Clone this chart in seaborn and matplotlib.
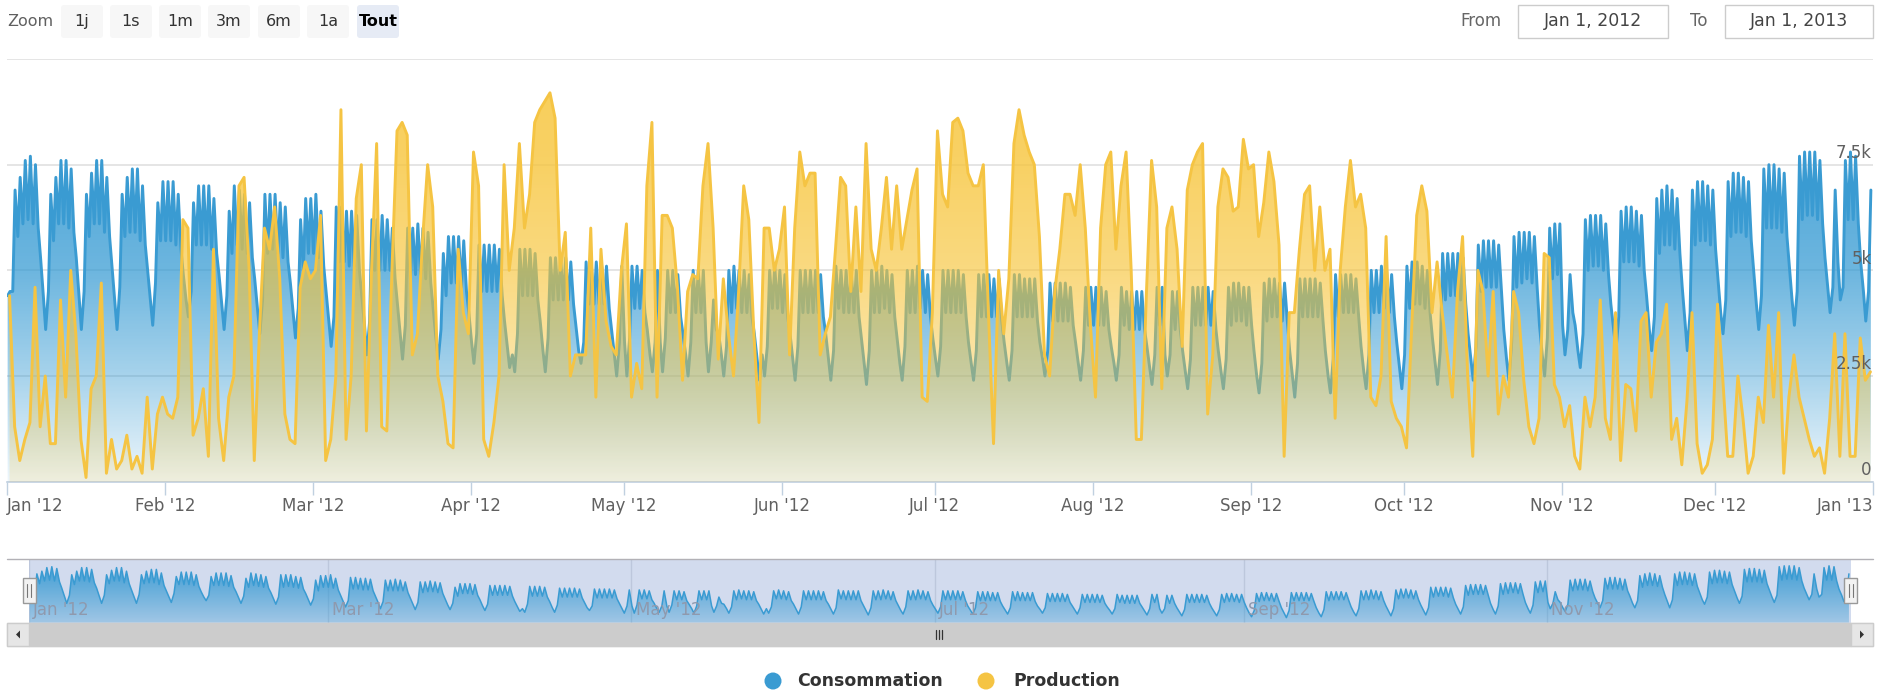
import numpy as np
import pandas as pd
import seaborn as sns
import matplotlib.pyplot as plt
import matplotlib.dates as mdates
from matplotlib.patches import Polygon, Rectangle, Circle, FancyBboxPatch
from matplotlib.transforms import blended_transform_factory

# Daily readings for 2012, in thousands.
# First value = Sun 1 Jan, then one row per week (Mon..Sun), last value = Mon 31 Dec.

# consumption, night-time low of each day
cons_night = [4.4,
    4.5, 5.8, 6.1, 6.2, 6.1, 6.0, 4.4,
    4.5, 5.7, 6.1, 6.1, 6.0, 5.9, 4.4,
    4.5, 5.8, 6.1, 6.1, 5.9, 5.8, 4.3,
    4.6, 5.8, 5.9, 5.9, 5.7, 5.6, 4.3,
    4.7, 5.7, 5.7, 5.7, 5.6, 5.5, 4.3,
    4.5, 5.6, 5.6, 5.6, 5.5, 5.4, 4.2,
    4.4, 5.4, 5.6, 5.5, 5.4, 5.3, 4.1,
    4.3, 5.4, 5.5, 5.4, 5.3, 5.2, 4.0,
    4.1, 5.0, 5.4, 5.4, 5.3, 5.1, 3.8,
    3.9, 5.2, 5.2, 5.1, 5.1, 5.0, 3.7,
    3.8, 5.0, 5.0, 5.0, 5.0, 4.8, 3.5,
    3.7, 4.8, 4.9, 4.9, 4.8, 4.7, 3.4,
    3.6, 4.4, 4.7, 4.7, 4.6, 4.5, 3.3,
    3.5, 4.5, 4.5, 4.5, 4.5, 4.4, 3.2,
    3.0, 3.5, 4.4, 4.4, 4.4, 4.3, 3.1,
    3.4, 4.3, 4.3, 4.3, 4.3, 4.2, 3.1,
    3.3, 4.2, 4.2, 4.2, 4.2, 4.1, 3.0,
    3.3, 3.3, 3.4, 4.1, 4.1, 4.0, 3.0,
    3.3, 3.3, 3.4, 4.0, 4.0, 3.9, 3.0,
    3.3, 4.0, 4.0, 3.3, 3.3, 3.6, 3.0,
    3.2, 4.0, 4.1, 4.0, 4.0, 3.9, 2.9,
    3.0, 3.2, 4.1, 4.1, 4.0, 3.9, 2.9,
    3.2, 4.0, 4.0, 4.0, 4.0, 3.9, 2.9,
    3.1, 4.1, 4.0, 4.0, 4.0, 3.9, 2.8,
    3.1, 4.0, 4.0, 4.1, 4.0, 3.9, 2.8,
    3.2, 4.0, 4.0, 4.1, 4.0, 3.9, 2.9,
    3.2, 4.0, 4.0, 4.0, 4.0, 3.9, 2.8,
    3.1, 3.9, 3.9, 3.9, 3.9, 3.8, 2.8,
    3.1, 3.9, 3.9, 3.9, 3.9, 3.8, 2.9,
    3.1, 3.8, 3.8, 3.8, 3.8, 3.7, 2.8,
    3.1, 3.7, 3.7, 3.7, 3.7, 3.6, 2.8,
    3.0, 3.7, 3.6, 3.6, 3.6, 3.6, 2.7,
    3.0, 3.7, 3.0, 3.0, 3.6, 3.6, 2.6,
    2.9, 3.7, 3.7, 3.7, 3.7, 3.6, 2.6,
    2.9, 3.7, 3.8, 3.8, 3.7, 3.7, 2.5,
    2.8, 3.8, 3.9, 3.9, 3.8, 3.8, 2.5,
    2.8, 3.9, 3.9, 3.9, 3.9, 3.8, 2.5,
    2.9, 3.9, 4.0, 4.0, 4.0, 3.9, 2.6,
    3.0, 4.0, 4.0, 4.1, 4.0, 3.9, 2.7,
    3.0, 4.1, 4.2, 4.2, 4.1, 4.0, 2.8,
    3.1, 4.3, 4.4, 4.4, 4.3, 4.2, 2.9,
    3.2, 4.5, 4.6, 4.6, 4.6, 4.5, 2.9,
    3.3, 4.6, 4.7, 4.8, 4.7, 4.6, 3.0,
    3.4, 4.8, 4.9, 3.7, 3.6, 4.0, 3.1,
    3.5, 5.0, 5.1, 5.1, 5.0, 4.9, 3.6,
    3.9, 5.2, 5.2, 5.2, 5.1, 5.0, 3.6,
    3.9, 5.4, 5.6, 5.6, 5.5, 5.4, 3.8,
    4.0, 5.6, 5.7, 5.7, 5.6, 5.5, 4.0,
    4.3, 5.8, 5.9, 5.9, 5.8, 5.7, 4.2,
    4.4, 6.0, 6.0, 6.0, 5.9, 5.8, 4.3,
    4.5, 6.2, 6.3, 6.3, 6.2, 6.1, 4.6,
    4.6, 5.2, 4.6, 6.2, 6.2, 6.1, 4.5,
    4.5]

# consumption, daytime peak of each day
cons_day = [4.5,
    6.9, 7.2, 7.6, 7.7, 7.5, 5.3, 3.6,
    6.8, 7.2, 7.6, 7.6, 7.4, 5.3, 3.6,
    6.8, 7.3, 7.6, 7.6, 7.2, 5.1, 3.6,
    6.8, 7.2, 7.4, 7.4, 7.0, 5.0, 3.7,
    6.6, 7.1, 7.1, 7.1, 6.8, 4.9, 3.9,
    6.6, 7.0, 7.0, 7.0, 6.7, 4.9, 3.6,
    6.4, 7.0, 6.9, 6.8, 6.6, 4.8, 3.5,
    6.8, 6.8, 6.8, 6.6, 6.5, 4.7, 3.4,
    6.2, 6.7, 6.7, 6.8, 6.4, 4.5, 3.2,
    6.5, 6.5, 6.4, 6.4, 6.3, 4.4, 3.0,
    6.2, 6.2, 6.3, 6.2, 6.0, 4.2, 2.9,
    6.0, 6.0, 6.1, 6.0, 5.9, 4.1, 2.9,
    5.4, 5.8, 5.8, 5.8, 5.7, 4.0, 2.8,
    5.6, 5.6, 5.6, 5.6, 5.5, 3.8, 2.7,
    2.6, 5.5, 5.5, 5.5, 5.4, 3.8, 2.6,
    5.3, 5.3, 5.3, 5.3, 5.2, 3.7, 2.8,
    5.2, 5.2, 5.2, 5.2, 5.1, 3.6, 2.5,
    5.1, 2.5, 5.1, 5.1, 5.0, 3.6, 2.6,
    5.0, 2.6, 5.0, 5.0, 4.9, 3.5, 2.5,
    5.0, 5.0, 5.0, 2.6, 4.3, 3.5, 2.5,
    5.0, 5.1, 5.0, 5.0, 4.9, 3.5, 2.4,
    2.5, 5.0, 5.1, 5.0, 4.9, 3.5, 2.4,
    5.0, 5.0, 5.0, 5.0, 4.9, 3.5, 2.4,
    5.1, 5.0, 5.0, 5.0, 5.0, 3.4, 2.3,
    5.0, 5.0, 5.1, 5.0, 4.9, 3.4, 2.4,
    5.0, 5.0, 5.1, 5.0, 4.9, 3.4, 2.5,
    5.0, 5.0, 5.0, 5.0, 4.9, 3.3, 2.4,
    4.9, 4.9, 4.9, 4.8, 4.8, 3.3, 2.4,
    4.9, 4.9, 4.8, 4.8, 4.8, 3.3, 2.5,
    4.7, 4.7, 4.7, 4.7, 4.6, 3.3, 2.4,
    4.6, 4.6, 4.6, 4.6, 4.5, 3.2, 2.4,
    4.6, 4.5, 4.5, 4.5, 4.5, 3.2, 2.3,
    4.6, 4.6, 2.5, 4.5, 4.5, 3.1, 2.2,
    4.6, 4.6, 4.6, 4.6, 4.5, 3.1, 2.2,
    4.6, 4.7, 4.7, 4.6, 4.6, 3.1, 2.1,
    4.7, 4.8, 4.8, 4.7, 4.7, 3.1, 2.0,
    4.8, 4.8, 4.8, 4.8, 4.7, 3.1, 2.1,
    4.9, 4.9, 4.9, 4.9, 4.8, 3.2, 2.2,
    5.0, 5.0, 5.1, 5.0, 4.9, 3.3, 2.2,
    5.1, 5.2, 5.2, 5.1, 5.0, 3.4, 2.3,
    5.4, 5.4, 5.4, 5.4, 5.3, 3.5, 2.4,
    5.6, 5.7, 5.7, 5.7, 5.6, 3.6, 2.4,
    5.8, 5.9, 5.9, 5.9, 5.8, 3.7, 2.5,
    6.0, 6.1, 6.1, 3.0, 4.9, 3.7, 2.7,
    6.2, 6.3, 6.3, 6.3, 6.1, 4.2, 3.1,
    6.4, 6.5, 6.5, 6.4, 6.3, 4.4, 3.1,
    6.7, 6.9, 7.0, 6.9, 6.7, 4.6, 3.1,
    6.9, 7.1, 7.1, 7.0, 6.9, 4.8, 3.5,
    7.1, 7.3, 7.3, 7.2, 7.1, 5.0, 3.6,
    7.4, 7.5, 7.5, 7.4, 7.3, 5.1, 3.7,
    7.7, 7.8, 7.8, 7.8, 7.6, 5.3, 4.0,
    6.9, 4.3, 7.6, 7.8, 7.7, 5.2, 3.8,
    6.9]

# production, one value per day
production = [4.4,
    1.3, 0.5, 1.0, 1.4, 4.6, 1.3, 2.5,
    0.9, 0.9, 4.3, 2.0, 5.0, 3.5, 1.0,
    0.1, 2.2, 2.5, 4.7, 0.2, 1.0, 0.3,
    0.5, 1.1, 0.3, 0.6, 0.2, 2.0, 0.3,
    1.6, 2.0, 1.6, 1.5, 2.0, 6.2, 6.0,
    1.1, 1.5, 2.2, 0.6, 5.5, 1.5, 0.5,
    2.0, 2.5, 7.0, 7.2, 5.0, 0.5, 3.5,
    6.0, 5.5, 6.5, 4.8, 1.6, 1.0, 0.9,
    4.6, 5.2, 4.8, 5.0, 6.3, 0.5, 1.0,
    2.5, 8.8, 1.0, 2.5, 6.7, 7.5, 1.2,
    5.0, 8.0, 1.3, 1.2, 5.0, 8.3, 8.5,
    8.2, 3.0, 3.5, 5.7, 7.5, 6.5, 2.5,
    1.9, 0.9, 0.8, 5.5, 4.0, 3.5, 7.8,
    7.0, 1.0, 0.6, 1.4, 2.5, 7.5, 5.0,
    6.0, 8.0, 6.0, 6.8, 8.5, 8.8, 9.0,
    9.2, 8.6, 5.0, 5.9, 2.5, 3.0, 3.0,
    3.0, 6.0, 2.0, 5.5, 3.8, 3.2, 3.0,
    5.0, 6.1, 2.0, 2.8, 2.2, 7.0, 8.5,
    2.0, 6.3, 6.3, 6.0, 4.6, 2.4, 4.5,
    4.9, 4.8, 7.0, 8.0, 6.0, 2.9, 4.8,
    3.5, 2.5, 4.5, 7.0, 6.2, 3.5, 1.4,
    6.0, 6.0, 5.0, 5.5, 6.5, 3.0, 6.0,
    7.8, 7.0, 7.3, 7.3, 3.0, 3.5, 3.9,
    5.5, 7.2, 7.0, 4.5, 6.5, 4.5, 8.0,
    5.5, 5.0, 6.0, 7.2, 5.5, 7.0, 5.5,
    6.2, 6.9, 7.4, 2.0, 1.9, 4.0, 8.3,
    6.8, 6.5, 8.5, 8.6, 8.3, 7.3, 7.0,
    7.0, 7.5, 4.0, 0.9, 5.0, 3.5, 4.8,
    8.0, 8.8, 8.2, 7.8, 7.5, 5.8, 3.0,
    2.5, 4.5, 5.5, 6.8, 6.8, 6.3, 7.5,
    6.0, 3.7, 2.0, 6.0, 7.5, 7.8, 5.5,
    7.0, 7.8, 5.0, 1.0, 1.0, 4.5, 7.6,
    6.5, 2.2, 6.0, 6.5, 5.5, 3.2, 6.9,
    7.5, 7.8, 8.0, 1.6, 3.0, 6.5, 7.4,
    7.2, 6.4, 6.5, 8.1, 7.4, 7.5, 5.8,
    6.6, 7.8, 7.1, 5.6, 0.6, 4.0, 4.0,
    5.5, 6.8, 7.0, 5.0, 6.5, 5.0, 5.5,
    1.5, 5.0, 6.5, 7.6, 6.5, 6.8, 6.0,
    2.0, 1.8, 2.5, 5.8, 1.9, 1.5, 1.3,
    0.8, 3.6, 6.3, 7.0, 6.4, 4.0, 5.2,
    4.0, 3.0, 2.0, 4.5, 5.8, 2.5, 0.6,
    5.0, 4.5, 2.5, 4.5, 1.6, 2.5, 2.0,
    4.5, 4.0, 2.4, 1.3, 0.9, 1.5, 5.4,
    5.3, 2.3, 2.0, 1.3, 1.8, 0.6, 0.3,
    2.0, 1.3, 2.0, 4.3, 1.5, 1.0, 4.0,
    0.5, 2.3, 2.2, 1.2, 3.8, 4.0, 2.0,
    3.3, 3.5, 4.2, 1.0, 1.5, 0.4, 1.9,
    4.0, 0.9, 0.2, 0.4, 1.0, 4.2, 2.5,
    0.6, 0.6, 2.5, 1.5, 0.2, 0.6, 2.0,
    1.4, 3.7, 2.0, 4.0, 0.2, 2.0, 3.0,
    2.0, 1.5, 1.0, 0.6, 0.8, 0.2, 1.5,
    3.5, 0.6, 3.5, 0.6, 0.6, 3.4, 2.4,
    2.6]

y_ticks = [0, 2.5, 5, 7.5]
y_tick_labels = ["0", "2.5k", "5k", "7.5k"]
zoom_buttons = ["1j", "1s", "1m", "3m", "6m", "1a", "Tout"]
series_names = ["Consommation", "Production"]

W, H = 1879, 692
BLUE = "#3a9bd2"
YELLOW = "#f5c443"
GREY_TXT = "#606060"

sns.set_theme(style="white")
plt.rcParams["font.family"] = ["DejaVu Sans"]

days = pd.date_range("2012-01-01", periods=len(production), freq="D")
cons = pd.DataFrame({
    "t": np.concatenate([days + pd.Timedelta(hours=3), days + pd.Timedelta(hours=14)]),
    "v": np.concatenate([cons_night, cons_day]),
}).sort_values("t").reset_index(drop=True)
prod = pd.DataFrame({"t": days + pd.Timedelta(hours=12), "v": production})

t0 = mdates.date2num(pd.Timestamp("2012-01-01"))
t1 = mdates.date2num(pd.Timestamp("2013-01-01"))


def gradient_area(ax, df, rgb, ys, alphas, ymin, ymax, z):
    x = mdates.date2num(df["t"])
    v = df["v"].to_numpy()
    verts = np.column_stack([np.r_[x[0], x, x[-1]], np.r_[ymin, v, ymin]])
    poly = Polygon(verts, closed=True, fc="none", ec="none")
    ax.add_patch(poly)
    yy = np.linspace(ymax, ymin, 400)
    img = np.zeros((400, 1, 4))
    img[..., :3] = rgb
    img[..., 3] = np.interp(yy, ys, alphas)[:, None]
    im = ax.imshow(img, aspect="auto", extent=[t0, t1, ymin, ymax],
                   origin="upper", zorder=z, interpolation="bilinear")
    im.set_clip_path(poly)


fig = plt.figure(figsize=(W / 100, H / 100), dpi=100)

# main chart
ax = fig.add_axes([7 / W, 1 - 481.7 / H, (1873 - 7) / W, (481.7 - 59) / H])
blue_rgb = (0.18, 0.59, 0.82)
yellow_rgb = (0.97, 0.77, 0.22)
gradient_area(ax, cons, blue_rgb, [0, 2.5, 5, 7.5, 10], [0.08, 0.42, 0.70, 0.83, 0.88], 0, 10, 1)
sns.lineplot(data=cons, x="t", y="v", ax=ax, color=BLUE, lw=2.1, estimator=None, legend=False, zorder=2)
gradient_area(ax, prod, yellow_rgb, [0, 2.5, 5, 7.5, 10], [0.15, 0.42, 0.64, 0.78, 0.84], 0, 10, 3)
sns.lineplot(data=prod, x="t", y="v", ax=ax, color=YELLOW, lw=2.1, estimator=None, legend=False, zorder=4)

ax.set_xlim(t0, t1)
ax.set_ylim(0, 10)
ax.set_xlabel("")
ax.set_ylabel("")
ax.set_yticks(y_ticks + [10])
ax.yaxis.grid(True, color="#e3e3e3", lw=1.3)
ax.xaxis.grid(False)
ax.set_axisbelow(True)
ax.tick_params(axis="y", length=0, labelleft=False)
for s in ["top", "left", "right"]:
    ax.spines[s].set_visible(False)
ax.spines["bottom"].set_color("#c0d0e0")
ax.spines["bottom"].set_linewidth(1.2)

months = pd.date_range("2012-01-01", "2013-01-01", freq="MS")
ax.set_xticks(mdates.date2num(months))
ax.set_xticklabels([m.strftime("%b '%y") for m in months])
ax.tick_params(axis="x", length=9, width=1, color="#c0d0e0", pad=2,
               labelsize=12, labelcolor=GREY_TXT, bottom=True)
labs = ax.get_xticklabels()
labs[0].set_ha("left")
labs[-1].set_ha("right")

tr = blended_transform_factory(ax.transAxes, ax.transData)
for v, lab in zip(y_ticks, y_tick_labels):
    ax.annotate(lab, xy=(1, v), xycoords=tr, xytext=(-1, 2), textcoords="offset points",
                ha="right", va="bottom", fontsize=12, color=GREY_TXT, zorder=6)

# navigator
axn = fig.add_axes([29 / W, 1 - 622.7 / H, (1851 - 29) / W, (622.7 - 559.3) / H])
axn.set_facecolor("#d2dbee")
gradient_area(axn, cons, blue_rgb, [1.43, 8.53], [0.3, 0.95], 1.43, 8.53, 2)
sns.lineplot(data=cons, x="t", y="v", ax=axn, color=BLUE, lw=1.1, estimator=None, legend=False, zorder=3)
axn.set_xlim(t0, t1)
axn.set_ylim(1.43, 8.53)
axn.set_xlabel("")
axn.set_ylabel("")
axn.set_xticks([])
axn.set_yticks([])
for s in axn.spines.values():
    s.set_visible(False)
nav_months = pd.date_range("2012-01-01", "2012-12-01", freq="2MS")
for m in nav_months:
    xm = mdates.date2num(m)
    axn.axvline(xm, color="#bdc7dc", lw=1, zorder=1)
    axn.annotate(m.strftime("%b '%y"), xy=(xm, 0.2), xycoords=("data", "axes fraction"),
                 xytext=(3, 0), textcoords="offset points", ha="left", va="center",
                 fontsize=12, color="#8f99ad", zorder=4)

# overlay for the stock-chart furniture, pixel coordinates
ov = fig.add_axes([0, 0, 1, 1], zorder=10)
ov.set_xlim(0, W)
ov.set_ylim(H, 0)
ov.axis("off")
ov.patch.set_alpha(0)

ov.text(7, 21.5, "Zoom", ha="left", va="center", fontsize=11.5, color=GREY_TXT)
btn_x = [61, 110, 159, 208, 258, 307, 357]
for lab, bx in zip(zoom_buttons, btn_x):
    sel = lab == "Tout"
    ov.add_patch(FancyBboxPatch((bx, 5), 42, 33, boxstyle="round,pad=0,rounding_size=3",
                                fc="#e6ebf5" if sel else "#f7f7f7", ec="none"))
    ov.text(bx + 21, 21.5, lab, ha="center", va="center", fontsize=11.5,
            color="black" if sel else "#333333", fontweight="bold" if sel else "normal")

ov.text(1502, 21.5, "From", ha="right", va="center", fontsize=12, color="#666666")
ov.add_patch(Rectangle((1518, 5), 150, 33, fc="white", ec="#cccccc", lw=1))
ov.text(1593, 21.5, "Jan 1, 2012", ha="center", va="center", fontsize=12.5, color="#444444")
ov.text(1708, 21.5, "To", ha="right", va="center", fontsize=12, color="#666666")
ov.add_patch(Rectangle((1725, 5), 148, 33, fc="white", ec="#cccccc", lw=1))
ov.text(1799, 21.5, "Jan 1, 2013", ha="center", va="center", fontsize=12.5, color="#444444")

# navigator outline and handles
ov.plot([7, 1873], [559.3, 559.3], color="#b2b1b6", lw=1)
for hx in [29.3, 1851]:
    ov.add_patch(Rectangle((hx - 6.5, 578), 13, 25, fc="#f2f2f2", ec="#999999", lw=1))
    ov.plot([hx - 1.8, hx - 1.8], [584, 597], color="#777777", lw=0.8)
    ov.plot([hx + 1.8, hx + 1.8], [584, 597], color="#777777", lw=0.8)

# scrollbar
ov.add_patch(Rectangle((7, 622.7), 1866, 23.3, fc="#eeeeee", ec="#dddddd", lw=1))
ov.add_patch(Rectangle((29, 622.7), 1822, 23.3, fc="#cccccc", ec="#cccccc", lw=1))
ov.add_patch(Rectangle((7, 622.7), 22, 23.3, fc="#e6e6e6", ec="#cccccc", lw=1))
ov.add_patch(Rectangle((1851, 622.7), 22, 23.3, fc="#e6e6e6", ec="#cccccc", lw=1))
ov.add_patch(Polygon([(20, 630.5), (20, 638.5), (16, 634.5)], closed=True, fc="#333333", ec="none"))
ov.add_patch(Polygon([(1860, 630.5), (1860, 638.5), (1864, 634.5)], closed=True, fc="#333333", ec="none"))
for gx in [936.5, 939.5, 942.5]:
    ov.plot([gx, gx], [630, 639], color="#333333", lw=0.9)

# legend
for (cx, tx), name, col in zip([(773, 797), (986, 1013)], series_names, [BLUE, YELLOW]):
    ov.add_patch(Circle((cx, 681), 8.5, fc=col, ec="none"))
    ov.text(tx, 681, name, ha="left", va="center", fontsize=12.5, fontweight="bold", color="#333333")

fig.savefig("out.png", dpi=100)
